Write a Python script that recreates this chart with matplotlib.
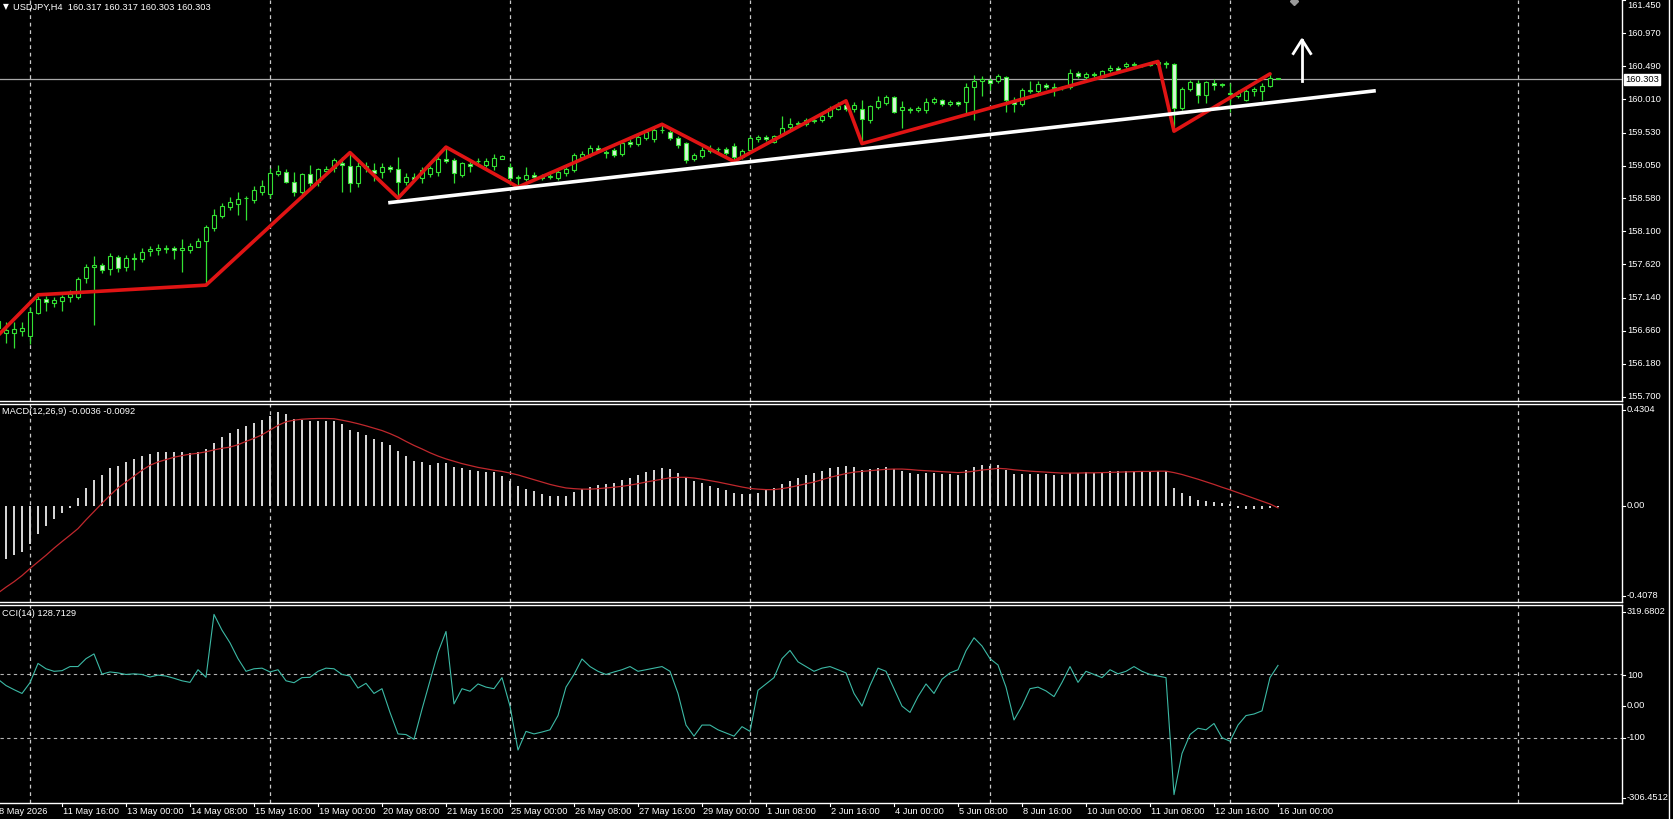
import matplotlib
matplotlib.use('Agg')
import matplotlib.pyplot as plt
import numpy as np
from matplotlib.lines import Line2D

plt.rcParams['font.family'] = ['Liberation Sans', 'DejaVu Sans']

# ---------------- data (bar index 0 = 8 May 08:00, H4 bars) ----------------
opens = [
    156.80, 156.633, 156.623, 156.657, 156.589, 156.923, 157.116, 157.058, 157.087, 157.155,
    157.155, 157.42, 157.58, 157.608, 157.56, 157.734, 157.589, 157.72, 157.70, 157.81,
    157.83, 157.85, 157.86, 157.83, 157.83, 157.879, 157.966, 158.145, 158.324, 158.459,
    158.497, 158.575, 158.555, 158.676, 158.642, 158.928, 158.966, 158.821, 158.676, 158.928,
    158.821, 158.975, 159.014, 159.096, 159.048, 158.797, 159.048, 158.99, 158.966, 159.028,
    159.0, 158.82, 158.893, 158.869, 158.927, 158.966, 159.154, 159.135, 158.917, 159.077,
    159.115, 159.062, 159.048, 159.154, 159.038, 158.878, 158.855, 158.91, 158.893, 158.884,
    158.869, 158.942, 158.99, 159.183, 159.207, 159.304, 159.255, 159.28, 159.222, 159.40,
    159.366, 159.449, 159.434, 159.56, 159.545, 159.449, 159.376, 159.144, 159.193, 159.27,
    159.299, 159.299, 159.338, 159.183, 159.28, 159.434, 159.463, 159.40, 159.497, 159.608,
    159.65, 159.647, 159.70, 159.714, 159.772, 159.869, 159.932, 159.869, 159.869, 159.714,
    159.898, 159.956, 160.043, 159.86, 159.87, 159.86, 159.85, 159.966, 159.995, 159.946,
    159.966, 159.966, 160.197, 160.27, 160.29, 160.284, 160.333, 160.004, 159.946, 160.149,
    160.139, 160.222, 160.188, 160.173, 160.197, 160.391, 160.333, 160.381, 160.352, 160.429,
    160.463, 160.487, 160.526, 160.502, 160.51, 160.525, 160.535, 160.526, 159.884, 160.159,
    160.246, 160.077, 160.246, 160.227, 160.11, 160.062, 160.004, 160.125, 160.125, 160.207,
    160.317]
highs = [
    156.88, 156.79, 156.79, 156.78, 157.01, 157.16, 157.164, 157.155, 157.18, 157.25,
    157.44, 157.628, 157.744, 157.637, 157.78, 157.758, 157.758, 157.78, 157.855, 157.89,
    157.917, 157.908, 157.888, 157.985, 157.937, 158.0, 158.19, 158.42, 158.517, 158.594,
    158.676, 158.604, 158.749, 158.836, 159.014, 159.063, 159.0, 158.952, 158.942, 159.063,
    159.014, 159.04, 159.159, 159.183, 159.24, 159.11, 159.11, 159.086, 159.086, 159.06,
    159.183, 158.94, 158.942, 159.038, 159.048, 159.193, 159.32, 159.159, 159.11, 159.135,
    159.159, 159.159, 159.222, 159.207, 159.086, 158.917, 159.028, 158.966, 158.93, 158.942,
    159.0, 159.028, 159.241, 159.26, 159.352, 159.352, 159.28, 159.31, 159.40, 159.434,
    159.49, 159.57, 159.594, 159.65, 159.57, 159.473, 159.40, 159.24, 159.318, 159.352,
    159.318, 159.328, 159.376, 159.29, 159.483, 159.497, 159.49, 159.50, 159.763, 159.738,
    159.70, 159.74, 159.75, 159.81, 159.908, 159.966, 159.99, 159.966, 160.0, 159.932,
    160.053, 160.077, 160.062, 159.98, 159.90, 159.92, 160.028, 160.05, 160.02, 160.0,
    159.99, 160.255, 160.367, 160.342, 160.32, 160.38, 160.342, 160.05, 160.173, 160.27,
    160.284, 160.246, 160.246, 160.20, 160.449, 160.42, 160.41, 160.40, 160.44, 160.512,
    160.49, 160.55, 160.545, 160.53, 160.55, 160.56, 160.56, 160.54, 160.197, 160.294,
    160.294, 160.284, 160.304, 160.25, 160.246, 160.14, 160.159, 160.197, 160.246, 160.39,
    160.317]
lows = [
    156.55, 156.48, 156.41, 156.585, 156.47, 156.90, 156.94, 157.01, 156.95, 157.08,
    157.12, 157.348, 156.74, 157.50, 157.468, 157.517, 157.53, 157.54, 157.66, 157.735,
    157.758, 157.783, 157.70, 157.516, 157.783, 157.87, 157.323, 158.10, 158.29, 158.41,
    158.338, 158.266, 158.507, 158.628, 158.58, 158.894, 158.797, 158.604, 158.628, 158.749,
    158.749, 158.94, 158.966, 158.676, 158.676, 158.748, 158.966, 158.835, 158.869, 158.966,
    158.58, 158.772, 158.835, 158.806, 158.893, 158.903, 159.086, 158.797, 158.893, 158.966,
    159.077, 159.038, 158.99, 159.14, 158.772, 158.74, 158.835, 158.845, 158.84, 158.855,
    158.845, 158.903, 158.966, 159.15, 159.183, 159.255, 159.16, 159.18, 159.19, 159.328,
    159.33, 159.42, 159.40, 159.53, 159.425, 159.304, 159.087, 159.125, 159.159, 159.23,
    159.24, 159.207, 159.11, 159.144, 159.231, 159.40, 159.41, 159.38, 159.473, 159.57,
    159.62, 159.628, 159.67, 159.69, 159.738, 159.86, 159.84, 159.835, 159.37, 159.666,
    159.869, 159.932, 159.82, 159.594, 159.82, 159.83, 159.82, 159.94, 159.92, 159.92,
    159.92, 159.82, 159.71, 160.053, 160.15, 160.25, 159.835, 159.835, 159.908, 160.10,
    160.10, 160.16, 160.053, 160.15, 160.159, 160.32, 160.31, 160.33, 160.34, 160.40,
    160.41, 160.47, 160.48, 160.48, 160.49, 160.51, 160.47, 159.55, 159.86, 160.125,
    159.956, 159.956, 160.149, 160.19, 159.835, 160.03, 159.98, 160.053, 160.004, 160.188,
    160.303]
closes = [
    156.70, 156.671, 156.686, 156.705, 156.937, 157.116, 157.077, 157.106, 157.145, 157.193,
    157.406, 157.589, 157.608, 157.541, 157.744, 157.565, 157.71, 157.70, 157.797, 157.84,
    157.86, 157.851, 157.83, 157.86, 157.889, 157.966, 158.159, 158.338, 158.468, 158.526,
    158.565, 158.576, 158.691, 158.758, 158.942, 158.976, 158.807, 158.676, 158.928, 158.797,
    159.0, 159.009, 159.135, 159.057, 158.806, 159.048, 159.01, 158.95, 159.028, 159.0,
    158.82, 158.893, 158.864, 158.99, 159.014, 159.144, 159.125, 158.942, 159.086, 159.048,
    159.115, 159.111, 159.159, 159.193, 158.869, 158.893, 158.917, 158.893, 158.874, 158.903,
    158.966, 159.0, 159.207, 159.222, 159.304, 159.28, 159.23, 159.207, 159.376, 159.366,
    159.463, 159.545, 159.56, 159.57, 159.449, 159.352, 159.135, 159.207, 159.28, 159.299,
    159.29, 159.241, 159.183, 159.27, 159.449, 159.463, 159.44, 159.483, 159.594, 159.656,
    159.666, 159.705, 159.714, 159.772, 159.884, 159.917, 159.869, 159.932, 159.724, 159.908,
    159.98, 160.043, 159.835, 159.898, 159.86, 159.884, 159.966, 160.014, 159.946, 159.966,
    159.946, 160.197, 160.27, 160.304, 160.25, 160.342, 160.004, 159.95, 160.149, 160.13,
    160.236, 160.188, 160.173, 160.183, 160.391, 160.343, 160.381, 160.357, 160.415, 160.463,
    160.434, 160.526, 160.502, 160.51, 160.535, 160.545, 160.52, 159.884, 160.159, 160.256,
    160.077, 160.256, 160.222, 160.217, 160.09, 160.111, 160.125, 160.159, 160.207, 160.317,
    160.303]

macd_main = [
    -0.235, -0.224, -0.210, -0.196, -0.163, -0.118, -0.087, -0.057, -0.030, -0.008,
    0.033, 0.075, 0.108, 0.129, 0.159, 0.170, 0.184, 0.197, 0.210, 0.218,
    0.226, 0.226, 0.226, 0.226, 0.221, 0.226, 0.238, 0.266, 0.290, 0.306,
    0.323, 0.337, 0.351, 0.362, 0.379, 0.396, 0.387, 0.365, 0.362, 0.358,
    0.358, 0.358, 0.358, 0.345, 0.320, 0.311, 0.300, 0.283, 0.269, 0.257,
    0.232, 0.210, 0.190, 0.184, 0.171, 0.181, 0.181, 0.164, 0.159, 0.150,
    0.147, 0.143, 0.143, 0.125, 0.105, 0.085, 0.070, 0.060, 0.050, 0.043,
    0.040, 0.042, 0.058, 0.070, 0.080, 0.088, 0.092, 0.097, 0.108, 0.118,
    0.130, 0.142, 0.152, 0.160, 0.155, 0.140, 0.120, 0.105, 0.095, 0.085,
    0.075, 0.065, 0.055, 0.050, 0.048, 0.055, 0.065, 0.075, 0.090, 0.105,
    0.118, 0.128, 0.138, 0.148, 0.158, 0.165, 0.168, 0.162, 0.150, 0.155,
    0.160, 0.165, 0.155, 0.148, 0.140, 0.135, 0.138, 0.140, 0.136, 0.132,
    0.130, 0.150, 0.165, 0.172, 0.170, 0.172, 0.150, 0.135, 0.135, 0.133,
    0.135, 0.133, 0.130, 0.128, 0.138, 0.140, 0.142, 0.140, 0.142, 0.145,
    0.145, 0.148, 0.148, 0.148, 0.148, 0.148, 0.146, 0.075, 0.055, 0.040,
    0.025, 0.020, 0.015, 0.010, 0.005, -0.008, -0.012, -0.015, -0.015, -0.010,
    -0.0036]
macd_signal = [
    -0.370, -0.345, -0.322, -0.296, -0.266, -0.238, -0.210, -0.180, -0.152, -0.125,
    -0.097, -0.060, -0.025, 0.010, 0.044, 0.075, 0.100, 0.125, 0.150, 0.171,
    0.185, 0.195, 0.205, 0.212, 0.218, 0.222, 0.228, 0.236, 0.243, 0.248,
    0.258, 0.272, 0.285, 0.300, 0.320, 0.340, 0.355, 0.362, 0.366, 0.368,
    0.369, 0.369, 0.368, 0.362, 0.355, 0.347, 0.338, 0.328, 0.318, 0.305,
    0.290, 0.272, 0.255, 0.240, 0.224, 0.210, 0.198, 0.188, 0.178, 0.170,
    0.162, 0.156, 0.150, 0.145, 0.138, 0.130, 0.120, 0.110, 0.100, 0.090,
    0.082, 0.075, 0.072, 0.070, 0.070, 0.072, 0.075, 0.078, 0.082, 0.087,
    0.093, 0.100, 0.106, 0.112, 0.118, 0.120, 0.120, 0.117, 0.112, 0.106,
    0.100, 0.093, 0.086, 0.079, 0.073, 0.070, 0.068, 0.068, 0.072, 0.078,
    0.085, 0.093, 0.100, 0.110, 0.120, 0.128, 0.136, 0.142, 0.145, 0.148,
    0.151, 0.154, 0.155, 0.155, 0.153, 0.150, 0.148, 0.146, 0.144, 0.142,
    0.140, 0.142, 0.146, 0.151, 0.154, 0.158, 0.156, 0.152, 0.149, 0.146,
    0.144, 0.142, 0.140, 0.138, 0.138, 0.138, 0.139, 0.139, 0.140, 0.141,
    0.142, 0.143, 0.144, 0.145, 0.145, 0.146, 0.146, 0.140, 0.132, 0.122,
    0.112, 0.101, 0.090, 0.078, 0.067, 0.055, 0.043, 0.031, 0.019, 0.007,
    -0.0092]
cci_values = [
    85, 65, 52, 40, 74, 135, 118, 110, 112, 125,
    125, 150, 165, 101, 108, 105, 100, 102, 100, 92,
    98, 95, 88, 80, 75, 115, 91, 290, 240, 200,
    150, 110, 118, 120, 108, 115, 80, 74, 90, 91,
    110, 120, 118, 100, 95, 57, 72, 40, 55, -20,
    -88, -90, -105, -10, 80, 170, 236, 7, 55, 47,
    70, 60, 55, 90, 0, -139, -80, -88, -82, -75,
    -30, 60, 100, 149, 125, 110, 100, 108, 115, 125,
    110, 115, 120, 125, 110, 40, -60, -95, -60, -60,
    -75, -85, -95, -65, -80, 50, 70, 90, 150, 176,
    140, 125, 110, 120, 125, 115, 105, 40, 0, 65,
    120, 110, 55, 0, -20, 30, 70, 40, 85, 105,
    115, 175, 216, 190, 150, 130, 60, -44, 0, 55,
    60, 48, 30, 75, 125, 75, 110, 100, 90, 115,
    102, 110, 125, 110, 100, 95, 90, -280, -150, -90,
    -70, -75, -55, -100, -111, -60, -30, -25, -15, 90,
    128.7]

# zigzag pivots (bar index, price) and drawn objects
zigzag_idx = [0, 5, 26, 44, 50, 56, 65, 83, 92, 106, 108, 145, 147, 159]
zigzag_px = [156.59, 157.18, 157.32, 159.24, 158.58, 159.32, 158.74, 159.65, 159.11,
             159.99, 159.37, 160.56, 159.55, 160.38]
trend_idx = [49, 172]
trend_px = [158.516, 160.133]
arrow_idx = 163
arrow_px = [160.27, 160.874]
last_price = 160.303

time_labels = ["8 May 2026", "11 May 16:00", "13 May 00:00", "14 May 08:00", "15 May 16:00",
               "19 May 00:00", "20 May 08:00", "21 May 16:00", "25 May 00:00", "26 May 08:00",
               "27 May 16:00", "29 May 00:00", "1 Jun 08:00", "2 Jun 16:00", "4 Jun 00:00",
               "5 Jun 08:00", "8 Jun 16:00", "10 Jun 00:00", "11 Jun 08:00", "12 Jun 16:00",
               "16 Jun 00:00"]
time_label_idx = [0, 8, 16, 24, 32, 40, 48, 56, 64, 72, 80, 88, 96, 104, 112, 120, 128, 136, 144, 152, 160]
grid_idx = [4, 34, 64, 94, 124, 154, 190]

price_ticks = [161.450, 160.970, 160.490, 160.010, 159.530, 159.050, 158.580, 158.100,
               157.620, 157.140, 156.660, 156.180, 155.700]
macd_labels = ["0.4304", "0.00", "-0.4078"]
cci_labels = ["319.6802", "100", "0.00", "-100", "-306.4512"]

# ---------------- layout ----------------
W, H = 1673, 819
fig = plt.figure(figsize=(W / 100, H / 100), dpi=100, facecolor='black')

def px_axes(x0, y0, x1, y1):
    return fig.add_axes([x0 / W, 1 - y1 / H, (x1 - x0) / W, (y1 - y0) / H])

def ftext(x, y, s, **kw):
    kw.setdefault('color', 'white')
    kw.setdefault('fontsize', 6.7)
    kw.setdefault('va', 'center')
    kw.setdefault('ha', 'left')
    fig.text(x / W, 1 - y / H, s, **kw)

def fline(xs_, ys_, **kw):
    fig.add_artist(Line2D([x / W for x in xs_], [1 - y / H for y in ys_], **kw))

XLIM = (0.25, 203.0)
AX_RIGHT = 1622
ax_main = px_axes(0, 0, AX_RIGHT, 401)
ax_macd = px_axes(0, 404, AX_RIGHT, 602)
ax_cci = px_axes(0, 605, AX_RIGHT, 803)

for ax in (ax_main, ax_macd, ax_cci):
    ax.set_facecolor('black')
    ax.set_xlim(*XLIM)
    ax.set_xticks([])
    ax.set_yticks([])
    ax.spines['left'].set_visible(False)
    for s in ('right', 'top', 'bottom'):
        ax.spines[s].set_color('white')
        ax.spines[s].set_linewidth(1.0)
    for g in grid_idx:
        ax.axvline(g, color='#c8c8c8', lw=0.9, ls=(0, (3, 3)), zorder=1)
ax_main.spines['top'].set_visible(False)

n = len(closes)
xs = np.arange(n)
o = np.array(opens); c = np.array(closes); hi = np.array(highs); lo = np.array(lows)

# ---------------- main price panel ----------------
P_TOP, P_BOT = 161.45, 155.642
ax_main.set_ylim(P_BOT, P_TOP)
GREEN = '#33e033'
ax_main.vlines(xs, lo, hi, color=GREEN, lw=0.9, zorder=2)
fills = ['black' if cc >= oo else '#d6f5d6' for oo, cc in zip(o, c)]
ax_main.bar(xs, np.abs(c - o), bottom=np.minimum(o, c), width=0.62, color=fills,
            edgecolor=GREEN, linewidth=0.8, zorder=3)

ax_main.axhline(last_price, color='#a8a8a8', lw=0.9, zorder=1.5)
ax_main.plot(zigzag_idx, zigzag_px, color='#e01414', lw=2.6, zorder=4, solid_capstyle='round')
ax_main.plot(trend_idx, trend_px, color='white', lw=2.6, zorder=4)
# arrow
ax_main.plot([arrow_idx, arrow_idx], arrow_px, color='white', lw=2.0, zorder=5)
ax_main.plot([arrow_idx - 1.09, arrow_idx, arrow_idx + 1.09],
             [arrow_px[1] - 0.2, arrow_px[1], arrow_px[1] - 0.2], color='white', lw=2.0, zorder=5)
ax_main.plot([162], [161.43], marker='D', ms=4, color='#9a9a9a', clip_on=True, zorder=5)

def price_to_px(p):
    return (P_TOP - p) / (P_TOP - P_BOT) * 401

for p in price_ticks:
    y = price_to_px(p)
    fline([AX_RIGHT, AX_RIGHT + 3], [y, y], color='white', lw=0.8)
    ftext(AX_RIGHT + 5, max(y, 5.0), f"{p:.3f}")

# current price label
yl = price_to_px(last_price)
ftext(AX_RIGHT + 3, yl, f"{last_price:.3f}", color='black',
      bbox=dict(boxstyle='square,pad=0.12', fc='white', ec='white'))

ftext(3, 7, "\u25BC", fontsize=5.5, family=['DejaVu Sans'])
ftext(13, 7, "USDJPY,H4  160.317 160.317 160.303 160.303")

# ---------------- MACD panel ----------------
ax_macd.set_ylim(-0.4078, 0.4304)
ax_macd.bar(xs, macd_main, width=0.34, color='#d4d4d4', zorder=2)
ax_macd.plot(xs, macd_signal, color='#c0282d', lw=0.9, zorder=3)
ftext(2, 412, "MACD(12,26,9) -0.0036 -0.0092")
for s, y in zip(macd_labels, [410, 505.5, 596]):
    fline([AX_RIGHT, AX_RIGHT + 3], [y, y], color='white', lw=0.8)
    ftext(AX_RIGHT + 5, y, s)

# ---------------- CCI panel ----------------
ax_cci.set_ylim(-306.4512, 319.6802)
ax_cci.axhline(100, color='#b4b4b4', lw=0.8, ls=(0, (3, 3)), zorder=1)
ax_cci.axhline(-100, color='#b4b4b4', lw=0.8, ls=(0, (3, 3)), zorder=1)
ax_cci.plot(xs, cci_values, color='#3cb9a5', lw=0.8, zorder=3)
ftext(2, 613, "CCI(14) 128.7129")
for s, y in zip(cci_labels, [612, 675, 706, 738, 798]):
    fline([AX_RIGHT, AX_RIGHT + 3], [y, y], color='white', lw=0.8)
    ftext(AX_RIGHT + 5, y, s)

# ---------------- time axis ----------------
def idx_to_px(i):
    return (i - XLIM[0]) / (XLIM[1] - XLIM[0]) * AX_RIGHT

for lab, i in zip(time_labels, time_label_idx):
    x = idx_to_px(i)
    fline([x, x], [803, 806], color='white', lw=0.8)
    ftext(x + 1, 811, lab)

# window right border
fline([1669, 1669], [0, 819], color='white', lw=1.0)

fig.savefig('out.png', dpi=100, facecolor='black')
